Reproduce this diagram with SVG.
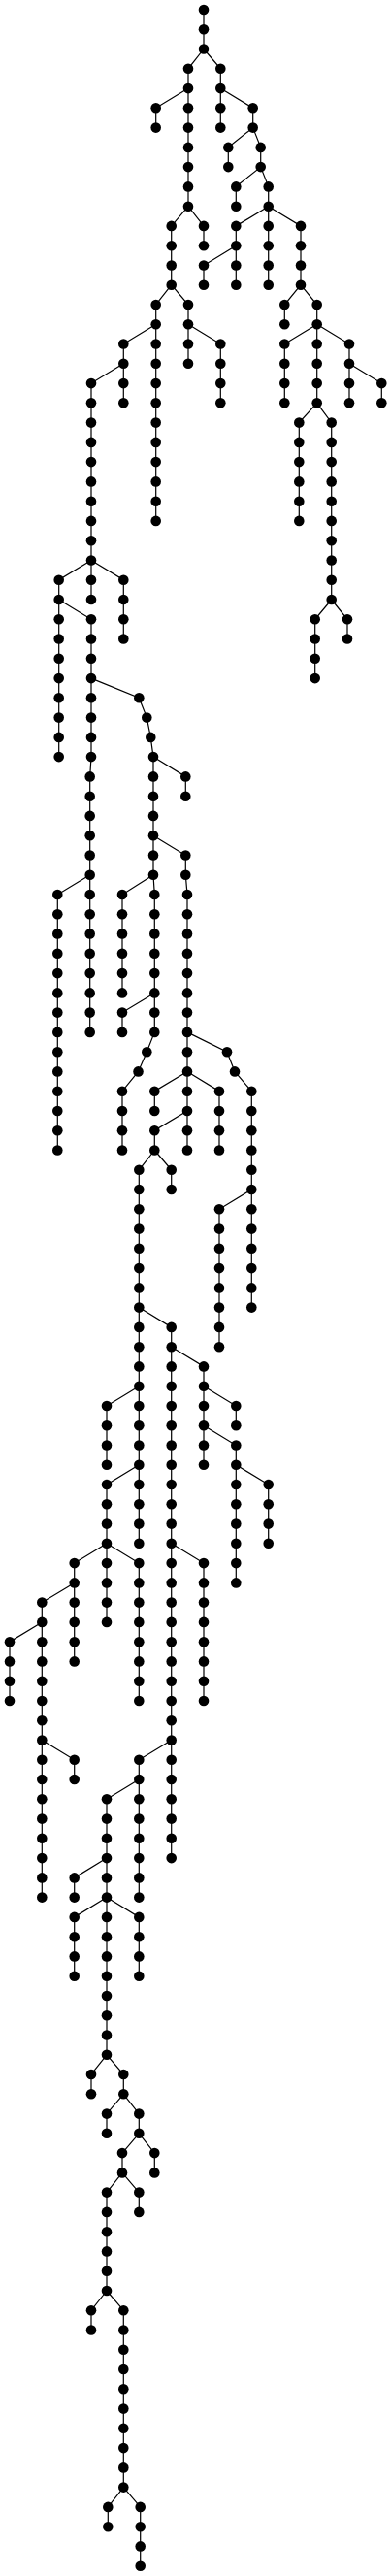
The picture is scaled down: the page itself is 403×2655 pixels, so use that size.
<svg xmlns="http://www.w3.org/2000/svg" width="403" height="2655" viewBox="0 0 403 2655">
<style>
.edges path{fill:none;stroke:#000;stroke-width:1.2}
.node circle{fill:#000}
</style>
<rect width="403" height="2655" fill="#fff"/>
<g class="edges" id="connectors">
<path d="M210,10 V50.5"/>
<path d="M210,50.5 L194,70.8 V91.1"/>
<path d="M210,50.5 L227.3,70.8 V91.1"/>
<path d="M194,91.1 L160.7,111.3 V131.6"/>
<path d="M194,91.1 V212.7"/>
<path d="M227.3,91.1 V131.6"/>
<path d="M227.3,91.1 L260.7,111.3 V131.6"/>
<path d="M260.7,131.6 L235.3,151.9 V172.1"/>
<path d="M260.7,131.6 L268.7,151.9 V172.1"/>
<path d="M268.7,172.1 L243.3,192.4 V212.7"/>
<path d="M268.7,172.1 L276.7,192.4 V212.7"/>
<path d="M194,212.7 L176.7,232.9 V293.7"/>
<path d="M194,212.7 L210,232.9 V253.2"/>
<path d="M276.7,212.7 L243.3,232.9 V253.2"/>
<path d="M243.3,253.2 L210,273.5 V293.7"/>
<path d="M243.3,253.2 V293.7"/>
<path d="M276.7,212.7 V293.7"/>
<path d="M276.7,212.7 L310,232.9 V293.7"/>
<path d="M176.7,293.7 L160.7,314 V334.3"/>
<path d="M176.7,293.7 L194,314 V334.3"/>
<path d="M310,293.7 L293.3,314 V334.3"/>
<path d="M310,293.7 L326.7,314 V334.3"/>
<path d="M160.7,334.3 L127.3,354.5 V374.8"/>
<path d="M160.7,334.3 V536.9"/>
<path d="M194,334.3 V374.8"/>
<path d="M194,334.3 L227.3,354.5 V415.3"/>
<path d="M326.7,334.3 L293.3,354.5 V415.3"/>
<path d="M326.7,334.3 V415.3"/>
<path d="M326.7,334.3 L360,354.5 V374.8"/>
<path d="M127.3,374.8 L94,395.1 V577.5"/>
<path d="M127.3,374.8 V415.3"/>
<path d="M360,374.8 V415.3"/>
<path d="M360,374.8 L393.3,395.1 V415.3"/>
<path d="M326.7,415.3 L308.3,435.6 V536.9"/>
<path d="M326.7,415.3 L341.7,435.6 V618"/>
<path d="M94,577.5 L60.7,597.7 V780.1"/>
<path d="M94,577.5 V618"/>
<path d="M94,577.5 L127.3,597.7 V658.5"/>
<path d="M60.7,618 L94,638.3 V780.1 L92.7,800.4 V1063.9"/>
<path d="M341.7,618 L324.7,638.3 V699.1"/>
<path d="M341.7,618 L358,638.3 V658.5"/>
<path d="M94,699.1 L143.3,719.3 L151.3,739.6 L155.3,759.9 L158,780.1 V901.7 L159.3,922 V1063.9"/>
<path d="M158,780.1 L191.3,800.4 V820.7"/>
<path d="M158,861.2 L191.3,881.5 V901.7 L193,922 V1185.5"/>
<path d="M92.7,901.7 L59.3,922 V1185.5"/>
<path d="M158,901.7 L126,922 V1023.4"/>
<path d="M159.3,1023.4 L126,1043.6 V1063.9"/>
<path d="M159.3,1063.9 L151.3,1084.2 L142.5,1104.4 L126,1124.7 V1185.5"/>
<path d="M193,1063.9 L234,1084.2 L242,1104.4 L259.3,1124.7 V1347.6"/>
<path d="M193,1104.4 L159.3,1124.7 V1145"/>
<path d="M193,1104.4 L226,1124.7 V1185.5"/>
<path d="M193,1145 L159.3,1165.2 V1185.5"/>
<path d="M159.3,1185.5 L143.3,1205.8 V1590.8"/>
<path d="M159.3,1185.5 L176.7,1205.8 V1226"/>
<path d="M259.3,1226 L226,1246.3 V1388.2"/>
<path d="M143.3,1347.6 L176.7,1367.9 V1915.1"/>
<path d="M176.7,1388.2 L210,1408.4 V1509.8"/>
<path d="M143.3,1428.7 L110,1449 V1509.8"/>
<path d="M210,1428.7 L243.3,1449 V1469.2"/>
<path d="M210,1469.2 L243.3,1489.5 V1631.4"/>
<path d="M143.3,1509.8 L110,1530 V1590.8"/>
<path d="M243.3,1509.8 L276.7,1530 V1590.8"/>
<path d="M110,1590.8 L76.7,1611.1 V1712.4"/>
<path d="M110,1590.8 V1671.9"/>
<path d="M110,1590.8 L143.3,1611.1 V1753"/>
<path d="M176.7,1590.8 L210,1611.1 V1753"/>
<path d="M76.7,1631.4 L43.3,1651.6 V1955.6"/>
<path d="M43.3,1671.9 L10,1692.2 V1753"/>
<path d="M43.3,1793.5 L76.7,1813.8 V1834"/>
<path d="M176.7,1793.5 L143.3,1813.8 V1955.6"/>
<path d="M143.3,1834 L110,1854.3 V2117.8"/>
<path d="M110,1915.1 L76.7,1935.4 V1955.6"/>
<path d="M110,1955.6 L76.7,1975.9 V2036.7"/>
<path d="M110,1955.6 L143.3,1975.9 V2036.7"/>
<path d="M110,2117.8 L94,2138 V2158.3"/>
<path d="M110,2117.8 L127.3,2138 V2158.3"/>
<path d="M127.3,2158.3 L110,2178.6 V2198.8"/>
<path d="M127.3,2158.3 L143.3,2178.6 V2198.8"/>
<path d="M143.3,2198.8 L126,2219.1 V2239.4"/>
<path d="M143.3,2198.8 L159.3,2219.1 V2239.4"/>
<path d="M126,2239.4 L110,2259.6 V2361"/>
<path d="M126,2239.4 L143.3,2259.6 V2279.9"/>
<path d="M110,2361 L94,2381.2 V2401.5"/>
<path d="M110,2361 L127.3,2381.2 V2563.6"/>
<path d="M127.3,2563.6 L111.3,2583.9 V2604.2"/>
<path d="M127.3,2563.6 L144.7,2583.9 V2644.7"/>
</g>
<g id="nodes">
<g class="node" id="n0"><circle cx="210" cy="10" r="5.3"/></g>
<g class="node" id="n1"><circle cx="210" cy="30.3" r="5.3"/></g>
<g class="node" id="n2"><circle cx="210" cy="50.5" r="5.3"/></g>
<g class="node" id="n3"><circle cx="194" cy="70.8" r="5.3"/></g>
<g class="node" id="n4"><circle cx="194" cy="91.1" r="5.3"/></g>
<g class="node" id="n5"><circle cx="227.3" cy="70.8" r="5.3"/></g>
<g class="node" id="n6"><circle cx="227.3" cy="91.1" r="5.3"/></g>
<g class="node" id="n7"><circle cx="160.7" cy="111.3" r="5.3"/></g>
<g class="node" id="n8"><circle cx="160.7" cy="131.6" r="5.3"/></g>
<g class="node" id="n9"><circle cx="194" cy="111.3" r="5.3"/></g>
<g class="node" id="n10"><circle cx="194" cy="131.6" r="5.3"/></g>
<g class="node" id="n11"><circle cx="194" cy="151.9" r="5.3"/></g>
<g class="node" id="n12"><circle cx="194" cy="172.1" r="5.3"/></g>
<g class="node" id="n13"><circle cx="194" cy="192.4" r="5.3"/></g>
<g class="node" id="n14"><circle cx="194" cy="212.7" r="5.3"/></g>
<g class="node" id="n15"><circle cx="227.3" cy="111.3" r="5.3"/></g>
<g class="node" id="n16"><circle cx="227.3" cy="131.6" r="5.3"/></g>
<g class="node" id="n17"><circle cx="260.7" cy="111.3" r="5.3"/></g>
<g class="node" id="n18"><circle cx="260.7" cy="131.6" r="5.3"/></g>
<g class="node" id="n19"><circle cx="235.3" cy="151.9" r="5.3"/></g>
<g class="node" id="n20"><circle cx="235.3" cy="172.1" r="5.3"/></g>
<g class="node" id="n21"><circle cx="268.7" cy="151.9" r="5.3"/></g>
<g class="node" id="n22"><circle cx="268.7" cy="172.1" r="5.3"/></g>
<g class="node" id="n23"><circle cx="243.3" cy="192.4" r="5.3"/></g>
<g class="node" id="n24"><circle cx="243.3" cy="212.7" r="5.3"/></g>
<g class="node" id="n25"><circle cx="276.7" cy="192.4" r="5.3"/></g>
<g class="node" id="n26"><circle cx="276.7" cy="212.7" r="5.3"/></g>
<g class="node" id="n27"><circle cx="176.7" cy="232.9" r="5.3"/></g>
<g class="node" id="n28"><circle cx="176.7" cy="253.2" r="5.3"/></g>
<g class="node" id="n29"><circle cx="176.7" cy="273.5" r="5.3"/></g>
<g class="node" id="n30"><circle cx="176.7" cy="293.7" r="5.3"/></g>
<g class="node" id="n31"><circle cx="210" cy="232.9" r="5.3"/></g>
<g class="node" id="n32"><circle cx="210" cy="253.2" r="5.3"/></g>
<g class="node" id="n33"><circle cx="243.3" cy="232.9" r="5.3"/></g>
<g class="node" id="n34"><circle cx="243.3" cy="253.2" r="5.3"/></g>
<g class="node" id="n35"><circle cx="210" cy="273.5" r="5.3"/></g>
<g class="node" id="n36"><circle cx="210" cy="293.7" r="5.3"/></g>
<g class="node" id="n37"><circle cx="243.3" cy="273.5" r="5.3"/></g>
<g class="node" id="n38"><circle cx="243.3" cy="293.7" r="5.3"/></g>
<g class="node" id="n39"><circle cx="276.7" cy="232.9" r="5.3"/></g>
<g class="node" id="n40"><circle cx="276.7" cy="253.2" r="5.3"/></g>
<g class="node" id="n41"><circle cx="276.7" cy="273.5" r="5.3"/></g>
<g class="node" id="n42"><circle cx="276.7" cy="293.7" r="5.3"/></g>
<g class="node" id="n43"><circle cx="310" cy="232.9" r="5.3"/></g>
<g class="node" id="n44"><circle cx="310" cy="253.2" r="5.3"/></g>
<g class="node" id="n45"><circle cx="310" cy="273.5" r="5.3"/></g>
<g class="node" id="n46"><circle cx="310" cy="293.7" r="5.3"/></g>
<g class="node" id="n47"><circle cx="160.7" cy="314" r="5.3"/></g>
<g class="node" id="n48"><circle cx="160.7" cy="334.3" r="5.3"/></g>
<g class="node" id="n49"><circle cx="194" cy="314" r="5.3"/></g>
<g class="node" id="n50"><circle cx="194" cy="334.3" r="5.3"/></g>
<g class="node" id="n51"><circle cx="293.3" cy="314" r="5.3"/></g>
<g class="node" id="n52"><circle cx="293.3" cy="334.3" r="5.3"/></g>
<g class="node" id="n53"><circle cx="326.7" cy="314" r="5.3"/></g>
<g class="node" id="n54"><circle cx="326.7" cy="334.3" r="5.3"/></g>
<g class="node" id="n55"><circle cx="127.3" cy="354.5" r="5.3"/></g>
<g class="node" id="n56"><circle cx="127.3" cy="374.8" r="5.3"/></g>
<g class="node" id="n57"><circle cx="160.7" cy="354.5" r="5.3"/></g>
<g class="node" id="n58"><circle cx="160.7" cy="374.8" r="5.3"/></g>
<g class="node" id="n59"><circle cx="160.7" cy="395.1" r="5.3"/></g>
<g class="node" id="n60"><circle cx="160.7" cy="415.3" r="5.3"/></g>
<g class="node" id="n61"><circle cx="160.7" cy="435.6" r="5.3"/></g>
<g class="node" id="n62"><circle cx="160.7" cy="455.9" r="5.3"/></g>
<g class="node" id="n63"><circle cx="160.7" cy="476.1" r="5.3"/></g>
<g class="node" id="n64"><circle cx="160.7" cy="496.4" r="5.3"/></g>
<g class="node" id="n65"><circle cx="160.7" cy="516.7" r="5.3"/></g>
<g class="node" id="n66"><circle cx="160.7" cy="536.9" r="5.3"/></g>
<g class="node" id="n67"><circle cx="194" cy="354.5" r="5.3"/></g>
<g class="node" id="n68"><circle cx="194" cy="374.8" r="5.3"/></g>
<g class="node" id="n69"><circle cx="227.3" cy="354.5" r="5.3"/></g>
<g class="node" id="n70"><circle cx="227.3" cy="374.8" r="5.3"/></g>
<g class="node" id="n71"><circle cx="227.3" cy="395.1" r="5.3"/></g>
<g class="node" id="n72"><circle cx="227.3" cy="415.3" r="5.3"/></g>
<g class="node" id="n73"><circle cx="293.3" cy="354.5" r="5.3"/></g>
<g class="node" id="n74"><circle cx="293.3" cy="374.8" r="5.3"/></g>
<g class="node" id="n75"><circle cx="293.3" cy="395.1" r="5.3"/></g>
<g class="node" id="n76"><circle cx="293.3" cy="415.3" r="5.3"/></g>
<g class="node" id="n77"><circle cx="326.7" cy="354.5" r="5.3"/></g>
<g class="node" id="n78"><circle cx="326.7" cy="374.8" r="5.3"/></g>
<g class="node" id="n79"><circle cx="326.7" cy="395.1" r="5.3"/></g>
<g class="node" id="n80"><circle cx="326.7" cy="415.3" r="5.3"/></g>
<g class="node" id="n81"><circle cx="360" cy="354.5" r="5.3"/></g>
<g class="node" id="n82"><circle cx="360" cy="374.8" r="5.3"/></g>
<g class="node" id="n83"><circle cx="94" cy="395.1" r="5.3"/></g>
<g class="node" id="n84"><circle cx="94" cy="415.3" r="5.3"/></g>
<g class="node" id="n85"><circle cx="94" cy="435.6" r="5.3"/></g>
<g class="node" id="n86"><circle cx="94" cy="455.9" r="5.3"/></g>
<g class="node" id="n87"><circle cx="94" cy="476.1" r="5.3"/></g>
<g class="node" id="n88"><circle cx="94" cy="496.4" r="5.3"/></g>
<g class="node" id="n89"><circle cx="94" cy="516.7" r="5.3"/></g>
<g class="node" id="n90"><circle cx="94" cy="536.9" r="5.3"/></g>
<g class="node" id="n91"><circle cx="94" cy="557.2" r="5.3"/></g>
<g class="node" id="n92"><circle cx="94" cy="577.5" r="5.3"/></g>
<g class="node" id="n93"><circle cx="127.3" cy="395.1" r="5.3"/></g>
<g class="node" id="n94"><circle cx="127.3" cy="415.3" r="5.3"/></g>
<g class="node" id="n95"><circle cx="360" cy="395.1" r="5.3"/></g>
<g class="node" id="n96"><circle cx="360" cy="415.3" r="5.3"/></g>
<g class="node" id="n97"><circle cx="393.3" cy="395.1" r="5.3"/></g>
<g class="node" id="n98"><circle cx="393.3" cy="415.3" r="5.3"/></g>
<g class="node" id="n99"><circle cx="308.3" cy="435.6" r="5.3"/></g>
<g class="node" id="n100"><circle cx="308.3" cy="455.9" r="5.3"/></g>
<g class="node" id="n101"><circle cx="308.3" cy="476.1" r="5.3"/></g>
<g class="node" id="n102"><circle cx="308.3" cy="496.4" r="5.3"/></g>
<g class="node" id="n103"><circle cx="308.3" cy="516.7" r="5.3"/></g>
<g class="node" id="n104"><circle cx="308.3" cy="536.9" r="5.3"/></g>
<g class="node" id="n105"><circle cx="341.7" cy="435.6" r="5.3"/></g>
<g class="node" id="n106"><circle cx="341.7" cy="455.9" r="5.3"/></g>
<g class="node" id="n107"><circle cx="341.7" cy="476.1" r="5.3"/></g>
<g class="node" id="n108"><circle cx="341.7" cy="496.4" r="5.3"/></g>
<g class="node" id="n109"><circle cx="341.7" cy="516.7" r="5.3"/></g>
<g class="node" id="n110"><circle cx="341.7" cy="536.9" r="5.3"/></g>
<g class="node" id="n111"><circle cx="341.7" cy="557.2" r="5.3"/></g>
<g class="node" id="n112"><circle cx="341.7" cy="577.5" r="5.3"/></g>
<g class="node" id="n113"><circle cx="341.7" cy="597.7" r="5.3"/></g>
<g class="node" id="n114"><circle cx="341.7" cy="618" r="5.3"/></g>
<g class="node" id="n115"><circle cx="60.7" cy="597.7" r="5.3"/></g>
<g class="node" id="n116"><circle cx="60.7" cy="618" r="5.3"/></g>
<g class="node" id="n117"><circle cx="60.7" cy="638.3" r="5.3"/></g>
<g class="node" id="n118"><circle cx="60.7" cy="658.5" r="5.3"/></g>
<g class="node" id="n119"><circle cx="60.7" cy="678.8" r="5.3"/></g>
<g class="node" id="n120"><circle cx="60.7" cy="699.1" r="5.3"/></g>
<g class="node" id="n121"><circle cx="60.7" cy="719.3" r="5.3"/></g>
<g class="node" id="n122"><circle cx="60.7" cy="739.6" r="5.3"/></g>
<g class="node" id="n123"><circle cx="60.7" cy="759.9" r="5.3"/></g>
<g class="node" id="n124"><circle cx="60.7" cy="780.1" r="5.3"/></g>
<g class="node" id="n125"><circle cx="94" cy="597.7" r="5.3"/></g>
<g class="node" id="n126"><circle cx="94" cy="618" r="5.3"/></g>
<g class="node" id="n127"><circle cx="127.3" cy="597.7" r="5.3"/></g>
<g class="node" id="n128"><circle cx="127.3" cy="618" r="5.3"/></g>
<g class="node" id="n129"><circle cx="127.3" cy="638.3" r="5.3"/></g>
<g class="node" id="n130"><circle cx="127.3" cy="658.5" r="5.3"/></g>
<g class="node" id="n131"><circle cx="94" cy="638.3" r="5.3"/></g>
<g class="node" id="n132"><circle cx="94" cy="658.5" r="5.3"/></g>
<g class="node" id="n133"><circle cx="94" cy="678.8" r="5.3"/></g>
<g class="node" id="n134"><circle cx="94" cy="699.1" r="5.3"/></g>
<g class="node" id="n135"><circle cx="94" cy="719.3" r="5.3"/></g>
<g class="node" id="n136"><circle cx="94" cy="739.6" r="5.3"/></g>
<g class="node" id="n137"><circle cx="94" cy="759.9" r="5.3"/></g>
<g class="node" id="n138"><circle cx="94" cy="780.1" r="5.3"/></g>
<g class="node" id="n139"><circle cx="92.7" cy="800.4" r="5.3"/></g>
<g class="node" id="n140"><circle cx="92.7" cy="820.7" r="5.3"/></g>
<g class="node" id="n141"><circle cx="92.7" cy="840.9" r="5.3"/></g>
<g class="node" id="n142"><circle cx="92.7" cy="861.2" r="5.3"/></g>
<g class="node" id="n143"><circle cx="92.7" cy="881.5" r="5.3"/></g>
<g class="node" id="n144"><circle cx="92.7" cy="901.7" r="5.3"/></g>
<g class="node" id="n145"><circle cx="92.7" cy="922" r="5.3"/></g>
<g class="node" id="n146"><circle cx="92.7" cy="942.3" r="5.3"/></g>
<g class="node" id="n147"><circle cx="92.7" cy="962.5" r="5.3"/></g>
<g class="node" id="n148"><circle cx="92.7" cy="982.8" r="5.3"/></g>
<g class="node" id="n149"><circle cx="92.7" cy="1003.1" r="5.3"/></g>
<g class="node" id="n150"><circle cx="92.7" cy="1023.4" r="5.3"/></g>
<g class="node" id="n151"><circle cx="92.7" cy="1043.6" r="5.3"/></g>
<g class="node" id="n152"><circle cx="92.7" cy="1063.9" r="5.3"/></g>
<g class="node" id="n153"><circle cx="324.7" cy="638.3" r="5.3"/></g>
<g class="node" id="n154"><circle cx="324.7" cy="658.5" r="5.3"/></g>
<g class="node" id="n155"><circle cx="324.7" cy="678.8" r="5.3"/></g>
<g class="node" id="n156"><circle cx="324.7" cy="699.1" r="5.3"/></g>
<g class="node" id="n157"><circle cx="358" cy="638.3" r="5.3"/></g>
<g class="node" id="n158"><circle cx="358" cy="658.5" r="5.3"/></g>
<g class="node" id="n159"><circle cx="143.3" cy="719.3" r="5.3"/></g>
<g class="node" id="n160"><circle cx="151.3" cy="739.6" r="5.3"/></g>
<g class="node" id="n161"><circle cx="155.3" cy="759.9" r="5.3"/></g>
<g class="node" id="n162"><circle cx="158" cy="780.1" r="5.3"/></g>
<g class="node" id="n163"><circle cx="158" cy="800.4" r="5.3"/></g>
<g class="node" id="n164"><circle cx="158" cy="820.7" r="5.3"/></g>
<g class="node" id="n165"><circle cx="158" cy="840.9" r="5.3"/></g>
<g class="node" id="n166"><circle cx="158" cy="861.2" r="5.3"/></g>
<g class="node" id="n167"><circle cx="158" cy="881.5" r="5.3"/></g>
<g class="node" id="n168"><circle cx="158" cy="901.7" r="5.3"/></g>
<g class="node" id="n169"><circle cx="159.3" cy="922" r="5.3"/></g>
<g class="node" id="n170"><circle cx="159.3" cy="942.3" r="5.3"/></g>
<g class="node" id="n171"><circle cx="159.3" cy="962.5" r="5.3"/></g>
<g class="node" id="n172"><circle cx="159.3" cy="982.8" r="5.3"/></g>
<g class="node" id="n173"><circle cx="159.3" cy="1003.1" r="5.3"/></g>
<g class="node" id="n174"><circle cx="159.3" cy="1023.4" r="5.3"/></g>
<g class="node" id="n175"><circle cx="159.3" cy="1043.6" r="5.3"/></g>
<g class="node" id="n176"><circle cx="159.3" cy="1063.9" r="5.3"/></g>
<g class="node" id="n177"><circle cx="191.3" cy="800.4" r="5.3"/></g>
<g class="node" id="n178"><circle cx="191.3" cy="820.7" r="5.3"/></g>
<g class="node" id="n179"><circle cx="191.3" cy="881.5" r="5.3"/></g>
<g class="node" id="n180"><circle cx="191.3" cy="901.7" r="5.3"/></g>
<g class="node" id="n181"><circle cx="193" cy="922" r="5.3"/></g>
<g class="node" id="n182"><circle cx="193" cy="942.3" r="5.3"/></g>
<g class="node" id="n183"><circle cx="193" cy="962.5" r="5.3"/></g>
<g class="node" id="n184"><circle cx="193" cy="982.8" r="5.3"/></g>
<g class="node" id="n185"><circle cx="193" cy="1003.1" r="5.3"/></g>
<g class="node" id="n186"><circle cx="193" cy="1023.4" r="5.3"/></g>
<g class="node" id="n187"><circle cx="193" cy="1043.6" r="5.3"/></g>
<g class="node" id="n188"><circle cx="193" cy="1063.9" r="5.3"/></g>
<g class="node" id="n189"><circle cx="193" cy="1084.2" r="5.3"/></g>
<g class="node" id="n190"><circle cx="193" cy="1104.4" r="5.3"/></g>
<g class="node" id="n191"><circle cx="193" cy="1124.7" r="5.3"/></g>
<g class="node" id="n192"><circle cx="193" cy="1145" r="5.3"/></g>
<g class="node" id="n193"><circle cx="193" cy="1165.2" r="5.3"/></g>
<g class="node" id="n194"><circle cx="193" cy="1185.5" r="5.3"/></g>
<g class="node" id="n195"><circle cx="59.3" cy="922" r="5.3"/></g>
<g class="node" id="n196"><circle cx="59.3" cy="942.3" r="5.3"/></g>
<g class="node" id="n197"><circle cx="59.3" cy="962.5" r="5.3"/></g>
<g class="node" id="n198"><circle cx="59.3" cy="982.8" r="5.3"/></g>
<g class="node" id="n199"><circle cx="59.3" cy="1003.1" r="5.3"/></g>
<g class="node" id="n200"><circle cx="59.3" cy="1023.4" r="5.3"/></g>
<g class="node" id="n201"><circle cx="59.3" cy="1043.6" r="5.3"/></g>
<g class="node" id="n202"><circle cx="59.3" cy="1063.9" r="5.3"/></g>
<g class="node" id="n203"><circle cx="59.3" cy="1084.2" r="5.3"/></g>
<g class="node" id="n204"><circle cx="59.3" cy="1104.4" r="5.3"/></g>
<g class="node" id="n205"><circle cx="59.3" cy="1124.7" r="5.3"/></g>
<g class="node" id="n206"><circle cx="59.3" cy="1145" r="5.3"/></g>
<g class="node" id="n207"><circle cx="59.3" cy="1165.2" r="5.3"/></g>
<g class="node" id="n208"><circle cx="59.3" cy="1185.5" r="5.3"/></g>
<g class="node" id="n209"><circle cx="126" cy="922" r="5.3"/></g>
<g class="node" id="n210"><circle cx="126" cy="942.3" r="5.3"/></g>
<g class="node" id="n211"><circle cx="126" cy="962.5" r="5.3"/></g>
<g class="node" id="n212"><circle cx="126" cy="982.8" r="5.3"/></g>
<g class="node" id="n213"><circle cx="126" cy="1003.1" r="5.3"/></g>
<g class="node" id="n214"><circle cx="126" cy="1023.4" r="5.3"/></g>
<g class="node" id="n215"><circle cx="126" cy="1043.6" r="5.3"/></g>
<g class="node" id="n216"><circle cx="126" cy="1063.9" r="5.3"/></g>
<g class="node" id="n217"><circle cx="151.3" cy="1084.2" r="5.3"/></g>
<g class="node" id="n218"><circle cx="142.5" cy="1104.4" r="5.3"/></g>
<g class="node" id="n219"><circle cx="126" cy="1124.7" r="5.3"/></g>
<g class="node" id="n220"><circle cx="126" cy="1145" r="5.3"/></g>
<g class="node" id="n221"><circle cx="126" cy="1165.2" r="5.3"/></g>
<g class="node" id="n222"><circle cx="126" cy="1185.5" r="5.3"/></g>
<g class="node" id="n223"><circle cx="234" cy="1084.2" r="5.3"/></g>
<g class="node" id="n224"><circle cx="242" cy="1104.4" r="5.3"/></g>
<g class="node" id="n225"><circle cx="259.3" cy="1124.7" r="5.3"/></g>
<g class="node" id="n226"><circle cx="259.3" cy="1145" r="5.3"/></g>
<g class="node" id="n227"><circle cx="259.3" cy="1165.2" r="5.3"/></g>
<g class="node" id="n228"><circle cx="259.3" cy="1185.5" r="5.3"/></g>
<g class="node" id="n229"><circle cx="259.3" cy="1205.8" r="5.3"/></g>
<g class="node" id="n230"><circle cx="259.3" cy="1226" r="5.3"/></g>
<g class="node" id="n231"><circle cx="259.3" cy="1246.3" r="5.3"/></g>
<g class="node" id="n232"><circle cx="259.3" cy="1266.6" r="5.3"/></g>
<g class="node" id="n233"><circle cx="259.3" cy="1286.8" r="5.3"/></g>
<g class="node" id="n234"><circle cx="259.3" cy="1307.1" r="5.3"/></g>
<g class="node" id="n235"><circle cx="259.3" cy="1327.4" r="5.3"/></g>
<g class="node" id="n236"><circle cx="259.3" cy="1347.6" r="5.3"/></g>
<g class="node" id="n237"><circle cx="159.3" cy="1124.7" r="5.3"/></g>
<g class="node" id="n238"><circle cx="159.3" cy="1145" r="5.3"/></g>
<g class="node" id="n239"><circle cx="226" cy="1124.7" r="5.3"/></g>
<g class="node" id="n240"><circle cx="226" cy="1145" r="5.3"/></g>
<g class="node" id="n241"><circle cx="226" cy="1165.2" r="5.3"/></g>
<g class="node" id="n242"><circle cx="226" cy="1185.5" r="5.3"/></g>
<g class="node" id="n243"><circle cx="159.3" cy="1165.2" r="5.3"/></g>
<g class="node" id="n244"><circle cx="159.3" cy="1185.5" r="5.3"/></g>
<g class="node" id="n245"><circle cx="143.3" cy="1205.8" r="5.3"/></g>
<g class="node" id="n246"><circle cx="143.3" cy="1226" r="5.3"/></g>
<g class="node" id="n247"><circle cx="143.3" cy="1246.3" r="5.3"/></g>
<g class="node" id="n248"><circle cx="143.3" cy="1266.6" r="5.3"/></g>
<g class="node" id="n249"><circle cx="143.3" cy="1286.8" r="5.3"/></g>
<g class="node" id="n250"><circle cx="143.3" cy="1307.1" r="5.3"/></g>
<g class="node" id="n251"><circle cx="143.3" cy="1327.4" r="5.3"/></g>
<g class="node" id="n252"><circle cx="143.3" cy="1347.6" r="5.3"/></g>
<g class="node" id="n253"><circle cx="143.3" cy="1367.9" r="5.3"/></g>
<g class="node" id="n254"><circle cx="143.3" cy="1388.2" r="5.3"/></g>
<g class="node" id="n255"><circle cx="143.3" cy="1408.4" r="5.3"/></g>
<g class="node" id="n256"><circle cx="143.3" cy="1428.7" r="5.3"/></g>
<g class="node" id="n257"><circle cx="143.3" cy="1449" r="5.3"/></g>
<g class="node" id="n258"><circle cx="143.3" cy="1469.2" r="5.3"/></g>
<g class="node" id="n259"><circle cx="143.3" cy="1489.5" r="5.3"/></g>
<g class="node" id="n260"><circle cx="143.3" cy="1509.8" r="5.3"/></g>
<g class="node" id="n261"><circle cx="143.3" cy="1530" r="5.3"/></g>
<g class="node" id="n262"><circle cx="143.3" cy="1550.3" r="5.3"/></g>
<g class="node" id="n263"><circle cx="143.3" cy="1570.6" r="5.3"/></g>
<g class="node" id="n264"><circle cx="143.3" cy="1590.8" r="5.3"/></g>
<g class="node" id="n265"><circle cx="176.7" cy="1205.8" r="5.3"/></g>
<g class="node" id="n266"><circle cx="176.7" cy="1226" r="5.3"/></g>
<g class="node" id="n267"><circle cx="226" cy="1246.3" r="5.3"/></g>
<g class="node" id="n268"><circle cx="226" cy="1266.6" r="5.3"/></g>
<g class="node" id="n269"><circle cx="226" cy="1286.8" r="5.3"/></g>
<g class="node" id="n270"><circle cx="226" cy="1307.1" r="5.3"/></g>
<g class="node" id="n271"><circle cx="226" cy="1327.4" r="5.3"/></g>
<g class="node" id="n272"><circle cx="226" cy="1347.6" r="5.3"/></g>
<g class="node" id="n273"><circle cx="226" cy="1367.9" r="5.3"/></g>
<g class="node" id="n274"><circle cx="226" cy="1388.2" r="5.3"/></g>
<g class="node" id="n275"><circle cx="176.7" cy="1367.9" r="5.3"/></g>
<g class="node" id="n276"><circle cx="176.7" cy="1388.2" r="5.3"/></g>
<g class="node" id="n277"><circle cx="176.7" cy="1408.4" r="5.3"/></g>
<g class="node" id="n278"><circle cx="176.7" cy="1428.7" r="5.3"/></g>
<g class="node" id="n279"><circle cx="176.7" cy="1449" r="5.3"/></g>
<g class="node" id="n280"><circle cx="176.7" cy="1469.2" r="5.3"/></g>
<g class="node" id="n281"><circle cx="176.7" cy="1489.5" r="5.3"/></g>
<g class="node" id="n282"><circle cx="176.7" cy="1509.8" r="5.3"/></g>
<g class="node" id="n283"><circle cx="176.7" cy="1530" r="5.3"/></g>
<g class="node" id="n284"><circle cx="176.7" cy="1550.3" r="5.3"/></g>
<g class="node" id="n285"><circle cx="176.7" cy="1570.6" r="5.3"/></g>
<g class="node" id="n286"><circle cx="176.7" cy="1590.8" r="5.3"/></g>
<g class="node" id="n287"><circle cx="176.7" cy="1611.1" r="5.3"/></g>
<g class="node" id="n288"><circle cx="176.7" cy="1631.4" r="5.3"/></g>
<g class="node" id="n289"><circle cx="176.7" cy="1651.6" r="5.3"/></g>
<g class="node" id="n290"><circle cx="176.7" cy="1671.9" r="5.3"/></g>
<g class="node" id="n291"><circle cx="176.7" cy="1692.2" r="5.3"/></g>
<g class="node" id="n292"><circle cx="176.7" cy="1712.4" r="5.3"/></g>
<g class="node" id="n293"><circle cx="176.7" cy="1732.7" r="5.3"/></g>
<g class="node" id="n294"><circle cx="176.7" cy="1753" r="5.3"/></g>
<g class="node" id="n295"><circle cx="176.7" cy="1773.2" r="5.3"/></g>
<g class="node" id="n296"><circle cx="176.7" cy="1793.5" r="5.3"/></g>
<g class="node" id="n297"><circle cx="176.7" cy="1813.8" r="5.3"/></g>
<g class="node" id="n298"><circle cx="176.7" cy="1834" r="5.3"/></g>
<g class="node" id="n299"><circle cx="176.7" cy="1854.3" r="5.3"/></g>
<g class="node" id="n300"><circle cx="176.7" cy="1874.6" r="5.3"/></g>
<g class="node" id="n301"><circle cx="176.7" cy="1894.8" r="5.3"/></g>
<g class="node" id="n302"><circle cx="176.7" cy="1915.1" r="5.3"/></g>
<g class="node" id="n303"><circle cx="210" cy="1408.4" r="5.3"/></g>
<g class="node" id="n304"><circle cx="210" cy="1428.7" r="5.3"/></g>
<g class="node" id="n305"><circle cx="210" cy="1449" r="5.3"/></g>
<g class="node" id="n306"><circle cx="210" cy="1469.2" r="5.3"/></g>
<g class="node" id="n307"><circle cx="210" cy="1489.5" r="5.3"/></g>
<g class="node" id="n308"><circle cx="210" cy="1509.8" r="5.3"/></g>
<g class="node" id="n309"><circle cx="110" cy="1449" r="5.3"/></g>
<g class="node" id="n310"><circle cx="110" cy="1469.2" r="5.3"/></g>
<g class="node" id="n311"><circle cx="110" cy="1489.5" r="5.3"/></g>
<g class="node" id="n312"><circle cx="110" cy="1509.8" r="5.3"/></g>
<g class="node" id="n313"><circle cx="243.3" cy="1449" r="5.3"/></g>
<g class="node" id="n314"><circle cx="243.3" cy="1469.2" r="5.3"/></g>
<g class="node" id="n315"><circle cx="243.3" cy="1489.5" r="5.3"/></g>
<g class="node" id="n316"><circle cx="243.3" cy="1509.8" r="5.3"/></g>
<g class="node" id="n317"><circle cx="243.3" cy="1530" r="5.3"/></g>
<g class="node" id="n318"><circle cx="243.3" cy="1550.3" r="5.3"/></g>
<g class="node" id="n319"><circle cx="243.3" cy="1570.6" r="5.3"/></g>
<g class="node" id="n320"><circle cx="243.3" cy="1590.8" r="5.3"/></g>
<g class="node" id="n321"><circle cx="243.3" cy="1611.1" r="5.3"/></g>
<g class="node" id="n322"><circle cx="243.3" cy="1631.4" r="5.3"/></g>
<g class="node" id="n323"><circle cx="110" cy="1530" r="5.3"/></g>
<g class="node" id="n324"><circle cx="110" cy="1550.3" r="5.3"/></g>
<g class="node" id="n325"><circle cx="110" cy="1570.6" r="5.3"/></g>
<g class="node" id="n326"><circle cx="110" cy="1590.8" r="5.3"/></g>
<g class="node" id="n327"><circle cx="276.7" cy="1530" r="5.3"/></g>
<g class="node" id="n328"><circle cx="276.7" cy="1550.3" r="5.3"/></g>
<g class="node" id="n329"><circle cx="276.7" cy="1570.6" r="5.3"/></g>
<g class="node" id="n330"><circle cx="276.7" cy="1590.8" r="5.3"/></g>
<g class="node" id="n331"><circle cx="76.7" cy="1611.1" r="5.3"/></g>
<g class="node" id="n332"><circle cx="76.7" cy="1631.4" r="5.3"/></g>
<g class="node" id="n333"><circle cx="76.7" cy="1651.6" r="5.3"/></g>
<g class="node" id="n334"><circle cx="76.7" cy="1671.9" r="5.3"/></g>
<g class="node" id="n335"><circle cx="76.7" cy="1692.2" r="5.3"/></g>
<g class="node" id="n336"><circle cx="76.7" cy="1712.4" r="5.3"/></g>
<g class="node" id="n337"><circle cx="110" cy="1611.1" r="5.3"/></g>
<g class="node" id="n338"><circle cx="110" cy="1631.4" r="5.3"/></g>
<g class="node" id="n339"><circle cx="110" cy="1651.6" r="5.3"/></g>
<g class="node" id="n340"><circle cx="110" cy="1671.9" r="5.3"/></g>
<g class="node" id="n341"><circle cx="143.3" cy="1611.1" r="5.3"/></g>
<g class="node" id="n342"><circle cx="143.3" cy="1631.4" r="5.3"/></g>
<g class="node" id="n343"><circle cx="143.3" cy="1651.6" r="5.3"/></g>
<g class="node" id="n344"><circle cx="143.3" cy="1671.9" r="5.3"/></g>
<g class="node" id="n345"><circle cx="143.3" cy="1692.2" r="5.3"/></g>
<g class="node" id="n346"><circle cx="143.3" cy="1712.4" r="5.3"/></g>
<g class="node" id="n347"><circle cx="143.3" cy="1732.7" r="5.3"/></g>
<g class="node" id="n348"><circle cx="143.3" cy="1753" r="5.3"/></g>
<g class="node" id="n349"><circle cx="210" cy="1611.1" r="5.3"/></g>
<g class="node" id="n350"><circle cx="210" cy="1631.4" r="5.3"/></g>
<g class="node" id="n351"><circle cx="210" cy="1651.6" r="5.3"/></g>
<g class="node" id="n352"><circle cx="210" cy="1671.9" r="5.3"/></g>
<g class="node" id="n353"><circle cx="210" cy="1692.2" r="5.3"/></g>
<g class="node" id="n354"><circle cx="210" cy="1712.4" r="5.3"/></g>
<g class="node" id="n355"><circle cx="210" cy="1732.7" r="5.3"/></g>
<g class="node" id="n356"><circle cx="210" cy="1753" r="5.3"/></g>
<g class="node" id="n357"><circle cx="43.3" cy="1651.6" r="5.3"/></g>
<g class="node" id="n358"><circle cx="43.3" cy="1671.9" r="5.3"/></g>
<g class="node" id="n359"><circle cx="43.3" cy="1692.2" r="5.3"/></g>
<g class="node" id="n360"><circle cx="43.3" cy="1712.4" r="5.3"/></g>
<g class="node" id="n361"><circle cx="43.3" cy="1732.7" r="5.3"/></g>
<g class="node" id="n362"><circle cx="43.3" cy="1753" r="5.3"/></g>
<g class="node" id="n363"><circle cx="43.3" cy="1773.2" r="5.3"/></g>
<g class="node" id="n364"><circle cx="43.3" cy="1793.5" r="5.3"/></g>
<g class="node" id="n365"><circle cx="43.3" cy="1813.8" r="5.3"/></g>
<g class="node" id="n366"><circle cx="43.3" cy="1834" r="5.3"/></g>
<g class="node" id="n367"><circle cx="43.3" cy="1854.3" r="5.3"/></g>
<g class="node" id="n368"><circle cx="43.3" cy="1874.6" r="5.3"/></g>
<g class="node" id="n369"><circle cx="43.3" cy="1894.8" r="5.3"/></g>
<g class="node" id="n370"><circle cx="43.3" cy="1915.1" r="5.3"/></g>
<g class="node" id="n371"><circle cx="43.3" cy="1935.4" r="5.3"/></g>
<g class="node" id="n372"><circle cx="43.3" cy="1955.6" r="5.3"/></g>
<g class="node" id="n373"><circle cx="10" cy="1692.2" r="5.3"/></g>
<g class="node" id="n374"><circle cx="10" cy="1712.4" r="5.3"/></g>
<g class="node" id="n375"><circle cx="10" cy="1732.7" r="5.3"/></g>
<g class="node" id="n376"><circle cx="10" cy="1753" r="5.3"/></g>
<g class="node" id="n377"><circle cx="76.7" cy="1813.8" r="5.3"/></g>
<g class="node" id="n378"><circle cx="76.7" cy="1834" r="5.3"/></g>
<g class="node" id="n379"><circle cx="143.3" cy="1813.8" r="5.3"/></g>
<g class="node" id="n380"><circle cx="143.3" cy="1834" r="5.3"/></g>
<g class="node" id="n381"><circle cx="143.3" cy="1854.3" r="5.3"/></g>
<g class="node" id="n382"><circle cx="143.3" cy="1874.6" r="5.3"/></g>
<g class="node" id="n383"><circle cx="143.3" cy="1894.8" r="5.3"/></g>
<g class="node" id="n384"><circle cx="143.3" cy="1915.1" r="5.3"/></g>
<g class="node" id="n385"><circle cx="143.3" cy="1935.4" r="5.3"/></g>
<g class="node" id="n386"><circle cx="143.3" cy="1955.6" r="5.3"/></g>
<g class="node" id="n387"><circle cx="110" cy="1854.3" r="5.3"/></g>
<g class="node" id="n388"><circle cx="110" cy="1874.6" r="5.3"/></g>
<g class="node" id="n389"><circle cx="110" cy="1894.8" r="5.3"/></g>
<g class="node" id="n390"><circle cx="110" cy="1915.1" r="5.3"/></g>
<g class="node" id="n391"><circle cx="110" cy="1935.4" r="5.3"/></g>
<g class="node" id="n392"><circle cx="110" cy="1955.6" r="5.3"/></g>
<g class="node" id="n393"><circle cx="110" cy="1975.9" r="5.3"/></g>
<g class="node" id="n394"><circle cx="110" cy="1996.2" r="5.3"/></g>
<g class="node" id="n395"><circle cx="110" cy="2016.4" r="5.3"/></g>
<g class="node" id="n396"><circle cx="110" cy="2036.7" r="5.3"/></g>
<g class="node" id="n397"><circle cx="110" cy="2057" r="5.3"/></g>
<g class="node" id="n398"><circle cx="110" cy="2077.2" r="5.3"/></g>
<g class="node" id="n399"><circle cx="110" cy="2097.5" r="5.3"/></g>
<g class="node" id="n400"><circle cx="110" cy="2117.8" r="5.3"/></g>
<g class="node" id="n401"><circle cx="76.7" cy="1935.4" r="5.3"/></g>
<g class="node" id="n402"><circle cx="76.7" cy="1955.6" r="5.3"/></g>
<g class="node" id="n403"><circle cx="76.7" cy="1975.9" r="5.3"/></g>
<g class="node" id="n404"><circle cx="76.7" cy="1996.2" r="5.3"/></g>
<g class="node" id="n405"><circle cx="76.7" cy="2016.4" r="5.3"/></g>
<g class="node" id="n406"><circle cx="76.7" cy="2036.7" r="5.3"/></g>
<g class="node" id="n407"><circle cx="143.3" cy="1975.9" r="5.3"/></g>
<g class="node" id="n408"><circle cx="143.3" cy="1996.2" r="5.3"/></g>
<g class="node" id="n409"><circle cx="143.3" cy="2016.4" r="5.3"/></g>
<g class="node" id="n410"><circle cx="143.3" cy="2036.7" r="5.3"/></g>
<g class="node" id="n411"><circle cx="94" cy="2138" r="5.3"/></g>
<g class="node" id="n412"><circle cx="94" cy="2158.3" r="5.3"/></g>
<g class="node" id="n413"><circle cx="127.3" cy="2138" r="5.3"/></g>
<g class="node" id="n414"><circle cx="127.3" cy="2158.3" r="5.3"/></g>
<g class="node" id="n415"><circle cx="110" cy="2178.6" r="5.3"/></g>
<g class="node" id="n416"><circle cx="110" cy="2198.8" r="5.3"/></g>
<g class="node" id="n417"><circle cx="143.3" cy="2178.6" r="5.3"/></g>
<g class="node" id="n418"><circle cx="143.3" cy="2198.8" r="5.3"/></g>
<g class="node" id="n419"><circle cx="126" cy="2219.1" r="5.3"/></g>
<g class="node" id="n420"><circle cx="126" cy="2239.4" r="5.3"/></g>
<g class="node" id="n421"><circle cx="159.3" cy="2219.1" r="5.3"/></g>
<g class="node" id="n422"><circle cx="159.3" cy="2239.4" r="5.3"/></g>
<g class="node" id="n423"><circle cx="110" cy="2259.6" r="5.3"/></g>
<g class="node" id="n424"><circle cx="110" cy="2279.9" r="5.3"/></g>
<g class="node" id="n425"><circle cx="110" cy="2300.2" r="5.3"/></g>
<g class="node" id="n426"><circle cx="110" cy="2320.4" r="5.3"/></g>
<g class="node" id="n427"><circle cx="110" cy="2340.7" r="5.3"/></g>
<g class="node" id="n428"><circle cx="110" cy="2361" r="5.3"/></g>
<g class="node" id="n429"><circle cx="143.3" cy="2259.6" r="5.3"/></g>
<g class="node" id="n430"><circle cx="143.3" cy="2279.9" r="5.3"/></g>
<g class="node" id="n431"><circle cx="94" cy="2381.2" r="5.3"/></g>
<g class="node" id="n432"><circle cx="94" cy="2401.5" r="5.3"/></g>
<g class="node" id="n433"><circle cx="127.3" cy="2381.2" r="5.3"/></g>
<g class="node" id="n434"><circle cx="127.3" cy="2401.5" r="5.3"/></g>
<g class="node" id="n435"><circle cx="127.3" cy="2421.8" r="5.3"/></g>
<g class="node" id="n436"><circle cx="127.3" cy="2442" r="5.3"/></g>
<g class="node" id="n437"><circle cx="127.3" cy="2462.3" r="5.3"/></g>
<g class="node" id="n438"><circle cx="127.3" cy="2482.6" r="5.3"/></g>
<g class="node" id="n439"><circle cx="127.3" cy="2502.8" r="5.3"/></g>
<g class="node" id="n440"><circle cx="127.3" cy="2523.1" r="5.3"/></g>
<g class="node" id="n441"><circle cx="127.3" cy="2543.4" r="5.3"/></g>
<g class="node" id="n442"><circle cx="127.3" cy="2563.6" r="5.3"/></g>
<g class="node" id="n443"><circle cx="111.3" cy="2583.9" r="5.3"/></g>
<g class="node" id="n444"><circle cx="111.3" cy="2604.2" r="5.3"/></g>
<g class="node" id="n445"><circle cx="144.7" cy="2583.9" r="5.3"/></g>
<g class="node" id="n446"><circle cx="144.7" cy="2604.2" r="5.3"/></g>
<g class="node" id="n447"><circle cx="144.7" cy="2624.4" r="5.3"/></g>
<g class="node" id="n448"><circle cx="144.7" cy="2644.7" r="5.3"/></g>
</g>
</svg>
